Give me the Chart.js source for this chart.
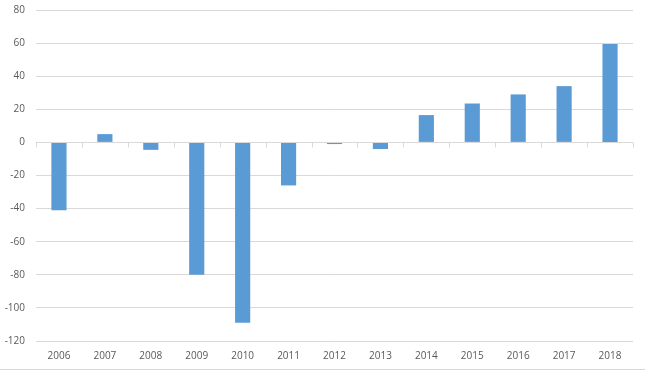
<!DOCTYPE html>
<html>
<head>
<meta charset="utf-8">
<script src="https://cdn.jsdelivr.net/npm/chart.js@4"></script>
<style>
    body { margin: 0; background: #fff; }
    #wrap { width: 645px; height: 369px; border-bottom: 1px solid #d9d9d9; }
</style>
</head>
<body>
<div id="wrap"><canvas id="chart" width="645" height="369"></canvas></div>
<script>
const years = ['2006', '2007', '2008', '2009', '2010', '2011', '2012', '2013', '2014', '2015', '2016', '2017', '2018'];
const values = [-41, 5, -4.5, -80, -109, -26, -1, -4, 16.5, 23.5, 29, 34, 59.5];

const gridColor = '#d9d9d9';
const labelColor = '#595959';

// small tick marks hanging from the zero line, one per category boundary
const zeroTicks = {
    id: 'zeroTicks',
    afterDatasetsDraw(chart) {
        const x = chart.scales.x;
        const y = chart.scales.y;
        const y0 = Math.round(y.getPixelForValue(0)) + 0.5;
        const ctx = chart.ctx;
        ctx.save();
        ctx.strokeStyle = gridColor;
        ctx.lineWidth = 1;
        ctx.beginPath();
        ctx.moveTo(x.left, y0);
        ctx.lineTo(x.right, y0);
        const n = years.length;
        for (let i = 0; i <= n; i++) {
            let px;
            if (i === 0) px = x.left;
            else if (i === n) px = x.right;
            else px = (x.getPixelForValue(i - 1) + x.getPixelForValue(i)) / 2;
            px = Math.round(px) + 0.5;
            ctx.moveTo(px, y0);
            ctx.lineTo(px, y0 + 5);
        }
        ctx.stroke();
        ctx.restore();
    }
};

new Chart(document.getElementById('chart'), {
    type: 'bar',
    data: {
        labels: years,
        datasets: [{
            data: values,
            backgroundColor: '#5b9bd5',
            barPercentage: 0.33,
            categoryPercentage: 1
        }]
    },
    options: {
        responsive: false,
        animation: false,
        layout: { padding: { top: 10, right: 12, bottom: 2, left: 0 } },
        plugins: {
            legend: { display: false },
            tooltip: { enabled: false }
        },
        scales: {
            x: {
                grid: { display: false, drawTicks: false },
                border: { display: false },
                ticks: {
                    color: labelColor,
                    font: { family: 'Open Sans', size: 10 },
                    padding: 9,
                    maxRotation: 0
                },
                afterFit(scale) { scale.height = 26; }
            },
            y: {
                min: -120,
                max: 80,
                grid: { color: gridColor, drawTicks: false },
                border: { display: false },
                ticks: {
                    stepSize: 20,
                    color: labelColor,
                    font: { family: 'Open Sans', size: 10 },
                    padding: 11
                },
                afterFit(scale) {
                    scale.width = 36;
                    scale.paddingTop = 0;
                    scale.paddingBottom = 0;
                }
            }
        }
    },
    plugins: [zeroTicks]
});
</script>
</body>
</html>
